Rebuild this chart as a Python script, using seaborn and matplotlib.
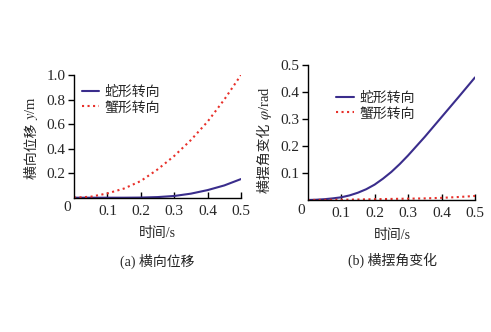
import matplotlib
matplotlib.use("Agg")
import matplotlib.pyplot as plt
import seaborn as sns
import pandas as pd

t = [0, 0.05, 0.1, 0.15, 0.2, 0.25, 0.3, 0.35, 0.4, 0.45, 0.5]
snake_y = [0, 0, 0, 0, 0.001, 0.005, 0.014, 0.033, 0.062, 0.10, 0.152]
crab_y = [0, 0.008, 0.035, 0.075, 0.136, 0.23, 0.34, 0.47, 0.62, 0.80, 1.0]
t_b = [0, 0.025, 0.05, 0.075, 0.1, 0.125, 0.15, 0.175, 0.2, 0.225, 0.25, 0.275, 0.3, 0.35, 0.4, 0.45, 0.5]
snake_phi = [0, 0.001, 0.003, 0.006, 0.01, 0.017, 0.027, 0.04, 0.057, 0.079, 0.104, 0.133, 0.165, 0.234, 0.307, 0.38, 0.454]
crab_phi = [0, 0.0003, 0.0005, 0.0008, 0.001, 0.0015, 0.002, 0.0025, 0.003, 0.0035, 0.004, 0.0045, 0.005, 0.006, 0.008, 0.011, 0.015]
series_names = ["蛇形转向", "蟹形转向"]
x_ticks = [0.1, 0.2, 0.3, 0.4, 0.5]
y_ticks_a = [0.2, 0.4, 0.6, 0.8, 1.0]
y_ticks_b = [0.1, 0.2, 0.3, 0.4, 0.5]

sns.set_style("ticks")
plt.rcParams["font.family"] = ["Liberation Serif", "Noto Sans CJK SC"]
plt.rcParams["mathtext.fontset"] = "stix"

C_SNAKE = "#3a2d8c"
C_CRAB = "#e8302a"

W, H = 491, 332
fig = plt.figure(figsize=(4.91, 3.32), dpi=100)
fig.patch.set_facecolor("white")
ax1 = fig.add_axes([74/W, 1-197.7/H, 167/W, 122.7/H])
ax2 = fig.add_axes([307.7/W, 1-200/H, 167.3/W, 135/H])

def draw(ax, tt, ys, yt, ylim, ylab_cjk, ylab_sym, ylab_x, ylab_y, caption, leg_anchor, cx, xl_y, cap_y):
    for name, y, col, ls in zip(series_names, ys, [C_SNAKE, C_CRAB], ["-", ":"]):
        df = pd.DataFrame({"t": tt, "v": y})
        sns.lineplot(data=df, x="t", y="v", ax=ax, color=col, linestyle=ls,
                     linewidth=1.5, label=name)
    ax.set_xlim(0, 0.5)
    ax.set_ylim(*ylim)
    ax.set_xticks(x_ticks)
    ax.set_xticklabels([f"{v:g}" for v in x_ticks])
    ax.set_yticks(yt)
    ax.set_yticklabels([f"{v:.1f}" for v in yt])
    ax.tick_params(axis="x", direction="in", length=4, width=1, labelsize=11, pad=5, color="black")
    ax.tick_params(axis="y", direction="out", length=4, width=1, labelsize=11, pad=2, color="black")
    for s in ["top", "right"]:
        ax.spines[s].set_visible(False)
    for s in ["left", "bottom"]:
        ax.spines[s].set_linewidth(1)
        ax.spines[s].set_color("black")
    ax.set_xlabel("")
    ax.set_ylabel("")
    pos = ax.get_position()
    x0 = pos.x0 * W
    y0 = (1 - pos.y0) * H
    fig.text((x0 - 7) / W, 1 - (y0 + 10) / H, "0", ha="center", va="center", fontsize=11)
    fig.text(ylab_x / W, 1 - ylab_y / H, ylab_cjk, rotation=90, ha="center", va="top", fontsize=10)
    fig.text(ylab_x / W, 1 - ylab_y / H, ylab_sym, rotation=90, ha="center", va="bottom", fontsize=10.5)
    fig.text(cx / W, 1 - xl_y / H, "时间/s", ha="center", va="center", fontsize=10)
    fig.text(cx / W, 1 - cap_y / H, caption, ha="center", va="center", fontsize=10)
    ax.legend(loc="upper left", bbox_to_anchor=leg_anchor, frameon=False, fontsize=10,
              handlelength=1.25, handletextpad=0.4, labelspacing=0.15, borderaxespad=0,
              borderpad=0)

draw(ax1, t, [snake_y, crab_y], y_ticks_a, (0, 1.0),
     "横向位移 ", "$y$/m", 32, 120, "(a) 横向位移", (0.048, 0.91), 157, 233, 261)
draw(ax2, t_b, [snake_phi, crab_phi], y_ticks_b, (0, 0.5),
     "横摆角变化 ", "$\\varphi$/rad", 265, 120, "(b) 横摆角变化", (0.17, 0.80), 392, 235, 260)

fig.savefig("out.png", dpi=100, facecolor="white")
